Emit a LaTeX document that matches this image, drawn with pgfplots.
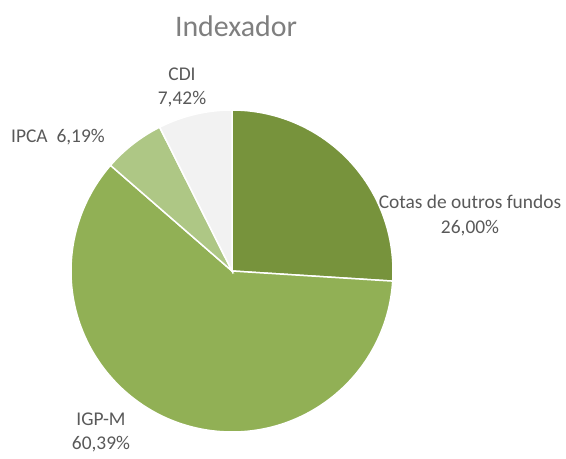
\documentclass[border=0pt]{standalone}
\usepackage{pgfplots}
\usepackage{pgfplotstable}
\pgfplotsset{compat=1.18}
\usepackage{fontspec}
\setmainfont{Carlito}
\definecolor{cotas}{HTML}{77933C}
\definecolor{igpm}{HTML}{91B055}
\definecolor{ipca}{HTML}{AEC785}
\definecolor{cdi}{HTML}{F2F2F2}
\definecolor{lbl}{HTML}{595959}
\definecolor{ttl}{HTML}{7F7F7F}
\pgfplotstableread{
label value
Cotas 26.00
IGPM 60.39
IPCA 6.19
CDI 7.42
}\piedata
\begin{document}
\begin{tikzpicture}
\pgfplotstablegetelem{0}{value}\of\piedata\let\vA\pgfplotsretval
\pgfplotstablegetelem{1}{value}\of\piedata\let\vB\pgfplotsretval
\pgfplotstablegetelem{2}{value}\of\piedata\let\vC\pgfplotsretval
\pgfplotstablegetelem{3}{value}\of\piedata\let\vD\pgfplotsretval
\pgfmathsetmacro\aA{90}
\pgfmathsetmacro\aB{\aA-3.6*\vA}
\pgfmathsetmacro\aC{\aB-3.6*\vB}
\pgfmathsetmacro\aD{\aC-3.6*\vC}
\pgfmathsetmacro\aE{\aD-3.6*\vD}
\begin{axis}[
  x=1bp, y=1bp,
  xmin=0, xmax=566, ymin=0, ymax=459,
  hide axis, clip=false,
]
\path (axis cs:0,0) (axis cs:566,459);
\def\cx{232}\def\cy{188}\def\R{161}
\fill[cotas,draw=white,line width=1.5bp] (axis cs:\cx,\cy) -- (axis cs:{\cx+\R*cos(\aA)},{\cy+\R*sin(\aA)}) arc[start angle=\aA,end angle=\aB,radius=\R] -- cycle;
\fill[igpm,draw=white,line width=1.5bp] (axis cs:\cx,\cy) -- (axis cs:{\cx+\R*cos(\aB)},{\cy+\R*sin(\aB)}) arc[start angle=\aB,end angle=\aC,radius=\R] -- cycle;
\fill[ipca,draw=white,line width=1.5bp] (axis cs:\cx,\cy) -- (axis cs:{\cx+\R*cos(\aC)},{\cy+\R*sin(\aC)}) arc[start angle=\aC,end angle=\aD,radius=\R] -- cycle;
\fill[cdi,draw=white,line width=1.5bp] (axis cs:\cx,\cy) -- (axis cs:{\cx+\R*cos(\aD)},{\cy+\R*sin(\aD)}) arc[start angle=\aD,end angle=\aE,radius=\R] -- cycle;
\node[text=ttl,font=\fontsize{30}{34}\selectfont] at (axis cs:236,433) {Indexador};
\node[text=lbl,align=center,font=\fontsize{19.5}{24.5}\selectfont] at (axis cs:182,371.5) {CDI\\7,42\%};
\node[text=lbl,font=\fontsize{19.5}{24.5}\selectfont] at (axis cs:58,322) {IPCA\ \ 6,19\%};
\node[text=lbl,align=center,font=\fontsize{19.5}{24.5}\selectfont] at (axis cs:470,243.5) {Cotas de outros fundos\\26,00\%};
\node[text=lbl,align=center,font=\fontsize{19.5}{24.5}\selectfont] at (axis cs:101,26.5) {IGP-M\\60,39\%};
\end{axis}
\end{tikzpicture}
\end{document}
